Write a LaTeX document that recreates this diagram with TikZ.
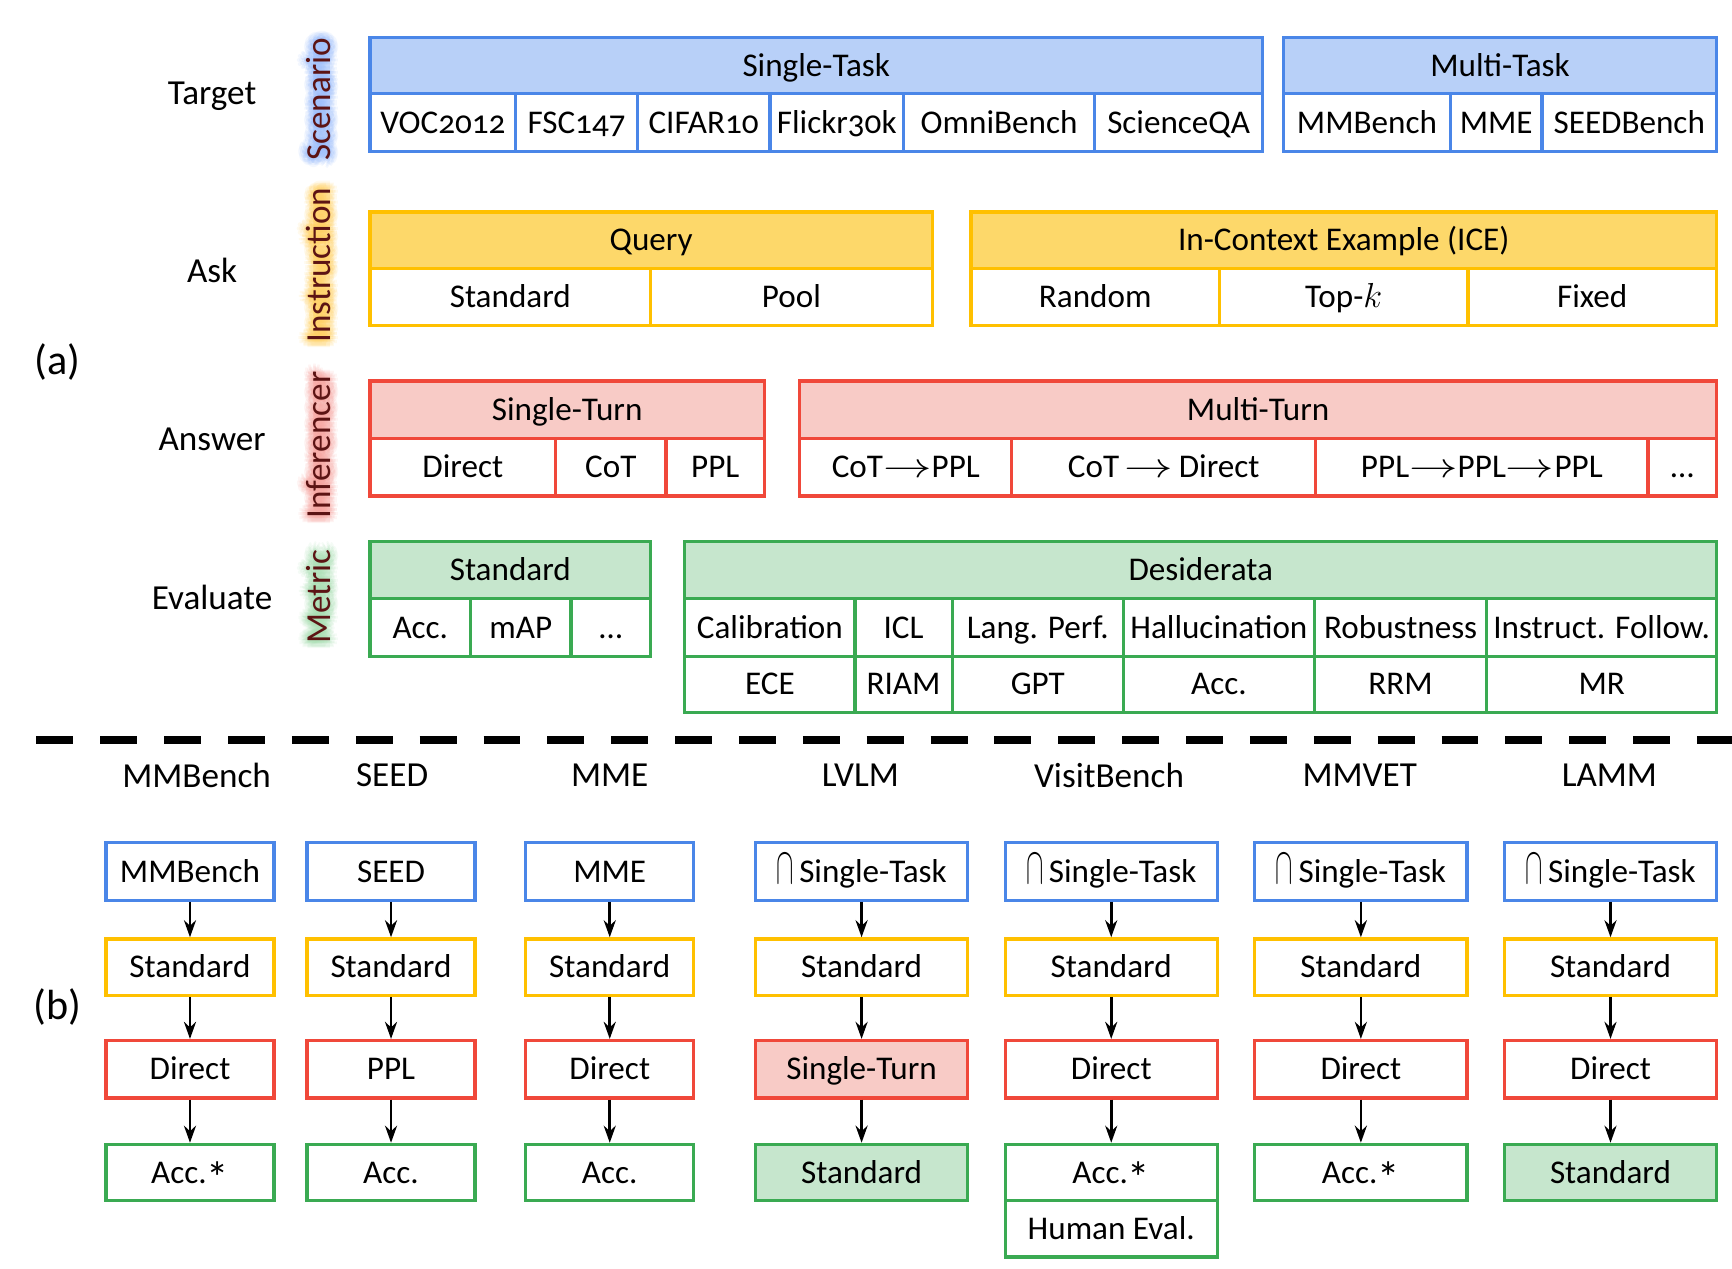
\documentclass[tikz,border=0pt]{standalone}
\usepackage{fontspec}
\usepackage{graphicx}
\setmainfont{Carlito}[Numbers=OldStyle]
\usetikzlibrary{arrows.meta}

\definecolor{bdraw}{RGB}{74,134,232}
\definecolor{bfill}{RGB}{184,208,248}
\definecolor{ydraw}{RGB}{255,192,0}
\definecolor{yfill}{RGB}{253,216,106}
\definecolor{rdraw}{RGB}{240,72,58}
\definecolor{rfill}{RGB}{248,203,198}
\definecolor{gdraw}{RGB}{58,170,82}
\definecolor{gfill}{RGB}{198,230,205}
\definecolor{labred}{RGB}{92,20,20}
\definecolor{bglow}{RGB}{150,185,250}
\definecolor{yglow}{RGB}{255,205,90}
\definecolor{rglow}{RGB}{245,160,155}
\definecolor{gglow}{RGB}{165,220,175}

\newcommand\cellfont{\fontsize{16.5}{19}\selectfont}
\newcommand\capsym{\raisebox{-0.5pt}{\scalebox{0.75}[1.5]{$\cap$}}\,}
\newcommand\thento{\scalebox{1.4}[1]{$\rightarrow$}}
\newcommand\astmark{\raisebox{-0.65ex}{\scalebox{1.35}{*}}}

\tikzset{
  box/.style={line width=1.6pt, inner sep=0pt, font=\cellfont,
              text height=10.6pt, text depth=0pt},
  bh/.style={box, draw=bdraw, fill=bfill}, bc/.style={box, draw=bdraw},
  yh/.style={box, draw=ydraw, fill=yfill}, yc/.style={box, draw=ydraw},
  rh/.style={box, draw=rdraw, fill=rfill}, rc/.style={box, draw=rdraw},
  gh/.style={box, draw=gdraw, fill=gfill}, gc/.style={box, draw=gdraw},
  rowlab/.style={font=\fontsize{17.5}{20}\selectfont, inner sep=0pt},
  vlab/.style={rotate=90, font=\fontsize{17.5}{20}\selectfont, inner sep=0pt},
  parttag/.style={font=\fontsize{21}{24}\selectfont, inner sep=0pt},
  arr/.style={line width=1.3pt, -{Stealth[length=8.5pt,width=6pt]}},
}

% cell spanning the rectangle (x1,y1)-(x2,y2), one unit = 0.55pt
\newcommand\tcell[7]{%
  \pgfmathsetmacro\cw{(#4-#2)*0.55}%
  \pgfmathsetmacro\chh{(#5-#3)*0.55}%
  \node[#6, minimum width=\cw pt, minimum height=\chh pt]
    (#1) at ({(#2+#4)/2},{(#3+#5)/2}) {#7};}
% rotated dimension label with a soft coloured halo
\newcommand\vlabel[5]{%
  \foreach \r in {1.5,3,4.5,6,7.5}{\foreach \a in {0,30,...,330}{
    \node[vlab, text=#4, opacity=0.11] at ([shift={(\a:\r)}]#2,#3) {#5};}}
  \node[vlab, text=labred] (#1) at (#2,#3) {#5};}

\begin{document}
\begin{tikzpicture}[x=0.55pt, y=-0.55pt]
\useasboundingbox (0,0) rectangle (1568,1148);

% ---------- (a) ----------
\node[parttag] (ta) at (52,328) {(a)};

\node[rowlab] (target) at (192,87) {Target};
\node[rowlab] (ask) at (192,245) {Ask};
\node[rowlab] (answer) at (192,398) {Answer};
\node[rowlab] (evaluate) at (192,541) {Evaluate};

\vlabel{scen}{288}{90}{bglow}{Scenario}
\vlabel{instr}{288}{240}{yglow}{Instruction}
\vlabel{infer}{288}{403}{rglow}{Inferencer}
\vlabel{metric}{288}{540}{gglow}{Metric}

% Scenario
\tcell{st}{335}{34}{1143}{85}{bh}{Single-Task}
\tcell{st1}{335}{85}{467}{137}{bc}{VOC2012}
\tcell{st2}{467}{85}{577}{137}{bc}{FSC147}
\tcell{st3}{577}{85}{697}{137}{bc}{CIFAR10}
\tcell{st4}{697}{85}{818}{137}{bc}{Flickr30k}
\tcell{st5}{818}{85}{991}{137}{bc}{OmniBench}
\tcell{st6}{991}{85}{1143}{137}{bc}{ScienceQA}
\tcell{mt}{1162}{34}{1554}{85}{bh}{Multi-Task}
\tcell{mt1}{1162}{85}{1313}{137}{bc}{MMBench}
\tcell{mt2}{1313}{85}{1396}{137}{bc}{MME}
\tcell{mt3}{1396}{85}{1554}{137}{bc}{SEEDBench}

% Instruction
\tcell{qu}{335}{192}{844}{243}{yh}{Query}
\tcell{qu1}{335}{243}{589}{295}{yc}{Standard}
\tcell{qu2}{589}{243}{844}{295}{yc}{Pool}
\tcell{ice}{879}{192}{1554}{243}{yh}{In-Context Example (ICE)}
\tcell{ice1}{879}{243}{1104}{295}{yc}{Random}
\tcell{ice2}{1104}{243}{1329}{295}{yc}{Top-$k$}
\tcell{ice3}{1329}{243}{1554}{295}{yc}{Fixed}

% Inferencer
\tcell{sg}{335}{345}{692}{397}{rh}{Single-Turn}
\tcell{sg1}{335}{397}{503}{449}{rc}{Direct}
\tcell{sg2}{503}{397}{603}{449}{rc}{CoT}
\tcell{sg3}{603}{397}{692}{449}{rc}{PPL}
\tcell{mu}{724}{345}{1554}{397}{rh}{Multi-Turn}
\tcell{mu1}{724}{397}{916}{449}{rc}{CoT\thento PPL}
\tcell{mu2}{916}{397}{1191}{449}{rc}{CoT\,\thento\,Direct}
\tcell{mu3}{1191}{397}{1492}{449}{rc}{PPL\thento PPL\thento PPL}
\tcell{mu4}{1492}{397}{1554}{449}{rc}{\ldots}

% Metric
\tcell{sd}{335}{490}{589}{542}{gh}{Standard}
\tcell{sd1}{335}{542}{426}{594}{gc}{Acc.}
\tcell{sd2}{426}{542}{517}{594}{gc}{mAP}
\tcell{sd3}{517}{542}{589}{594}{gc}{\ldots}
\tcell{de}{620}{490}{1554}{542}{gh}{Desiderata}
\tcell{de1}{620}{542}{774}{594}{gc}{Calibration}
\tcell{de2}{774}{542}{862}{594}{gc}{ICL}
\tcell{de3}{862}{542}{1017}{594}{gc}{Lang. Perf.}
\tcell{de4}{1017}{542}{1190}{594}{gc}{Hallucination}
\tcell{de5}{1190}{542}{1346}{594}{gc}{Robustness}
\tcell{de6}{1346}{542}{1554}{594}{gc}{Instruct. Follow.}
\tcell{dm1}{620}{594}{774}{645}{gc}{ECE}
\tcell{dm2}{774}{594}{862}{645}{gc}{RIAM}
\tcell{dm3}{862}{594}{1017}{645}{gc}{GPT}
\tcell{dm4}{1017}{594}{1190}{645}{gc}{Acc.}
\tcell{dm5}{1190}{594}{1346}{645}{gc}{RRM}
\tcell{dm6}{1346}{594}{1554}{645}{gc}{MR}

% ---------- separator ----------
\coordinate (sepl) at (33,670);
\coordinate (sepr) at (1568,670);
\draw[line width=3.6pt, dash pattern=on 18.4pt off 13.4pt] (sepl) -- (sepr);

% ---------- (b) ----------
\node[parttag] (tb) at (52,912) {(b)};

\node[rowlab] (h1) at (178,702) {MMBench};
\node[rowlab] (h2) at (355,702) {SEED};
\node[rowlab] (h3) at (552,702) {MME};
\node[rowlab] (h4) at (779,702) {LVLM};
\node[rowlab] (h5) at (1004,702) {VisitBench};
\node[rowlab] (h6) at (1231,702) {MMVET};
\node[rowlab] (h7) at (1457,702) {LAMM};

% MMBench
\tcell{a1}{96}{763}{248}{815}{bc}{MMBench}
\tcell{a2}{96}{850}{248}{901}{yc}{Standard}
\tcell{a3}{96}{942}{248}{994}{rc}{Direct}
\tcell{a4}{96}{1036}{248}{1087}{gc}{Acc.\astmark}
% SEED
\tcell{b1}{278}{763}{430}{815}{bc}{SEED}
\tcell{b2}{278}{850}{430}{901}{yc}{Standard}
\tcell{b3}{278}{942}{430}{994}{rc}{PPL}
\tcell{b4}{278}{1036}{430}{1087}{gc}{Acc.}
% MME
\tcell{c1}{476}{763}{628}{815}{bc}{MME}
\tcell{c2}{476}{850}{628}{901}{yc}{Standard}
\tcell{c3}{476}{942}{628}{994}{rc}{Direct}
\tcell{c4}{476}{1036}{628}{1087}{gc}{Acc.}
% LVLM
\tcell{d1}{684}{763}{876}{815}{bc}{\capsym Single-Task}
\tcell{d2}{684}{850}{876}{901}{yc}{Standard}
\tcell{d3}{684}{942}{876}{994}{rh}{Single-Turn}
\tcell{d4}{684}{1036}{876}{1087}{gh}{Standard}
% VisitBench
\tcell{e1}{910}{763}{1102}{815}{bc}{\capsym Single-Task}
\tcell{e2}{910}{850}{1102}{901}{yc}{Standard}
\tcell{e3}{910}{942}{1102}{994}{rc}{Direct}
\tcell{e4}{910}{1036}{1102}{1087}{gc}{Acc.\astmark}
\tcell{e5}{910}{1087}{1102}{1138}{gc}{Human Eval.}
% MMVET
\tcell{f1}{1136}{763}{1328}{815}{bc}{\capsym Single-Task}
\tcell{f2}{1136}{850}{1328}{901}{yc}{Standard}
\tcell{f3}{1136}{942}{1328}{994}{rc}{Direct}
\tcell{f4}{1136}{1036}{1328}{1087}{gc}{Acc.\astmark}
% LAMM
\tcell{g1}{1362}{763}{1554}{815}{bc}{\capsym Single-Task}
\tcell{g2}{1362}{850}{1554}{901}{yc}{Standard}
\tcell{g3}{1362}{942}{1554}{994}{rc}{Direct}
\tcell{g4}{1362}{1036}{1554}{1087}{gh}{Standard}

\foreach \c in {a,b,c,d,e,f,g}{
  \draw[arr] (\c1) -- (\c2);
  \draw[arr] (\c2) -- (\c3);
  \draw[arr] (\c3) -- (\c4);
}
\end{tikzpicture}
\end{document}
